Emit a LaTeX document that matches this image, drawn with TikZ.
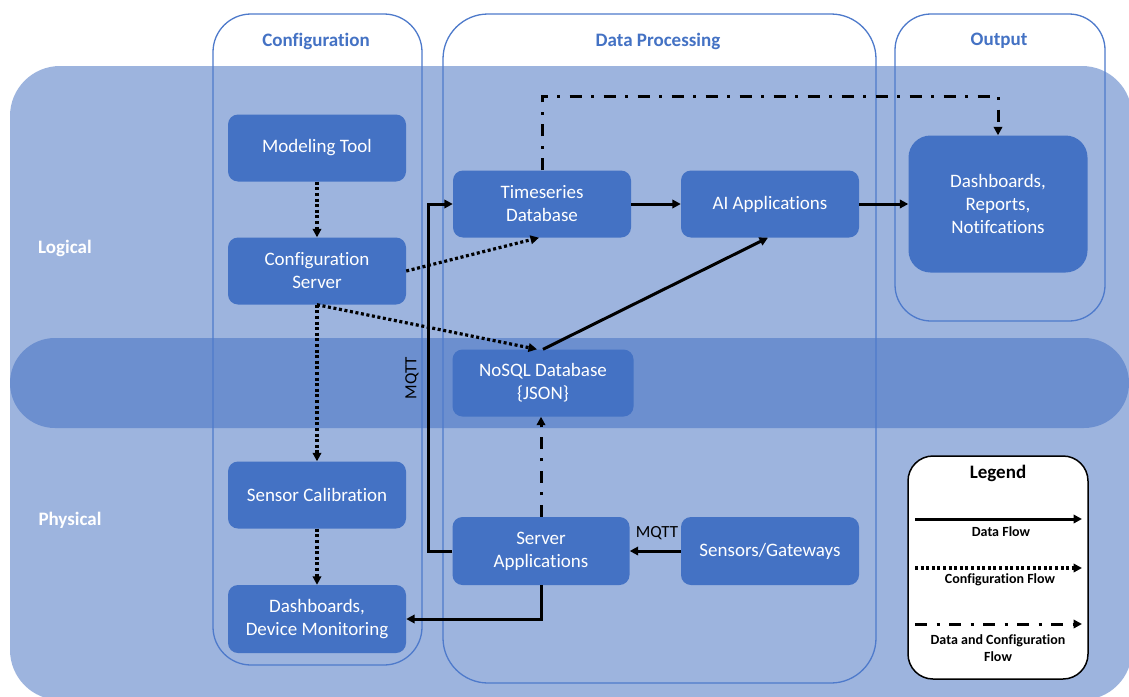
\documentclass[tikz,border=0pt]{standalone}
\usepackage{fontspec}
\setmainfont{Carlito}[Ligatures=NoCommon]
\usetikzlibrary{arrows.meta}
\definecolor{bgl}{RGB}{157,180,222}
\definecolor{bandc}{RGB}{108,143,207}
\definecolor{nodeb}{RGB}{68,114,196}
\definecolor{colb}{RGB}{78,122,203}
\begin{document}
\begin{tikzpicture}[x=1pt,y=-1pt,
  box/.style={fill=nodeb, rounded corners=10pt, text=white, minimum width=178pt, minimum height=67pt, align=center, font=\fontsize{19}{23}\selectfont, inner sep=0pt},
  colbox/.style={draw=colb, line width=1.3pt},
  hdr/.style={text=nodeb, font=\bfseries\fontsize{19}{23}\selectfont},
  lane/.style={text=white, font=\bfseries\fontsize{19}{23}\selectfont},
  lbl/.style={text=black, font=\fontsize{17}{20}\selectfont, inner sep=1pt},
  legtxt/.style={text=black, font=\bfseries\fontsize{14}{17}\selectfont, align=center, inner sep=0pt},
  tip/.style={-{Triangle[length=8.5pt,width=8.5pt]}},
  dataflow/.style={line width=3pt, tip},
  confflow/.style={line width=3.2pt, dash pattern=on 3pt off 2.6pt, tip},
  bothflow/.style={line width=3pt, dash pattern=on 12pt off 9.5pt on 3pt off 9.5pt, tip},
]
\useasboundingbox (0,0) rectangle (1129,696);
\fill[white] (0,0) rectangle (1129,696);
% backgrounds
\fill[bgl, rounded corners=50pt] (10,66) rectangle (1132,700);
\fill[bandc, rounded corners=45pt] (10,338) rectangle (1129,428);
% columns
\draw[colbox, rounded corners=38pt] (213,14) rectangle (422,665);
\draw[colbox, rounded corners=45pt] (443,14) rectangle (876,683);
\draw[colbox, rounded corners=36pt] (895,14) rectangle (1105,321);
\node[hdr] (hconf) at (316,41) {Configuration};
\node[hdr] (hdata) at (658,41) {Data Processing};
\node[hdr] (hout) at (999,41) {Output};
\node[lane] (logical) at (65,248) {Logical};
\node[lane] (physical) at (70,520) {Physical};
% nodes
\node[box] (mt) at (317,148) {Modeling Tool};
\node[box] (cs) at (317,271) {Configuration\\Server};
\node[box] (sc) at (317,495) {Sensor Calibration};
\node[box, minimum height=68pt] (ddm) at (317,619) {Dashboards,\\Device Monitoring};
\node[box] (ts) at (542,204) {Timeseries\\Database};
\node[box] (ai) at (770,204) {AI Applications};
\node[box, minimum width=181pt] (nosql) at (543,383) {NoSQL Database\\\{JSON\}};
\node[box, minimum width=177pt, minimum height=68pt] (sa) at (541,551) {Server\\Applications};
\node[box, minimum height=68pt] (sg) at (770,551) {Sensors/Gateways};
\node[box, rounded corners=22pt, minimum width=179pt, minimum height=137pt] (drn) at (998,204) {Dashboards,\\Reports,\\Notifcations};
% configuration flows
\draw[confflow] (mt.south) -- (cs.north);
\draw[confflow] (cs.east) -- ([xshift=-3pt]ts.south);
\draw[confflow] (cs.south) -- ([xshift=-6pt]nosql.north);
\draw[confflow] (cs.south) -- (sc.north);
\draw[confflow] (sc.south) -- (ddm.north);
% data flows
\draw[dataflow] (ts.east) -- (ai.west);
\draw[dataflow] (ai.east) -- (drn.west);
\draw[dataflow] (nosql.north) -- ([xshift=-2pt]ai.south);
\draw[dataflow] (sg.west) -- (sa.east);
\node[lbl] (mqtt1) at (657,533) {MQTT};
\draw[dataflow] (sa.west) -- ++(-24,0) coordinate (mq) |- (ts.west);
\node[lbl, rotate=90] (mqtt2) at (412,378) {MQTT};
\draw[dataflow] (sa.south) |- (ddm.east);
% data and configuration flows
\draw[bothflow] (sa.north) -- (sa.north |- nosql.south);
\draw[bothflow] (ts.north) -- (542,96) -| (drn.north);
% legend
\node[draw=black, line width=1.5pt, fill=white, rounded corners=25pt, minimum width=180pt, minimum height=223pt] (legend) at (998,567.5) {};
\node[text=black, font=\bfseries\fontsize{19}{23}\selectfont] (legt) at (998,473) {Legend};
\coordinate (l1a) at (915,519); \coordinate (l1b) at (1082,519);
\coordinate (l2a) at (915,568); \coordinate (l2b) at (1082,568);
\coordinate (l3a) at (915,624); \coordinate (l3b) at (1082,624);
\draw[dataflow] (l1a) -- (l1b);
\draw[confflow] (l2a) -- (l2b);
\draw[bothflow] (l3a) -- (l3b);
\node[legtxt] (lt1) at (1001,532) {Data Flow};
\node[legtxt] (lt2) at (1000,580) {Configuration Flow};
\node[legtxt] (lt3) at (998,648) {Data and Configuration\\Flow};
\end{tikzpicture}
\end{document}
